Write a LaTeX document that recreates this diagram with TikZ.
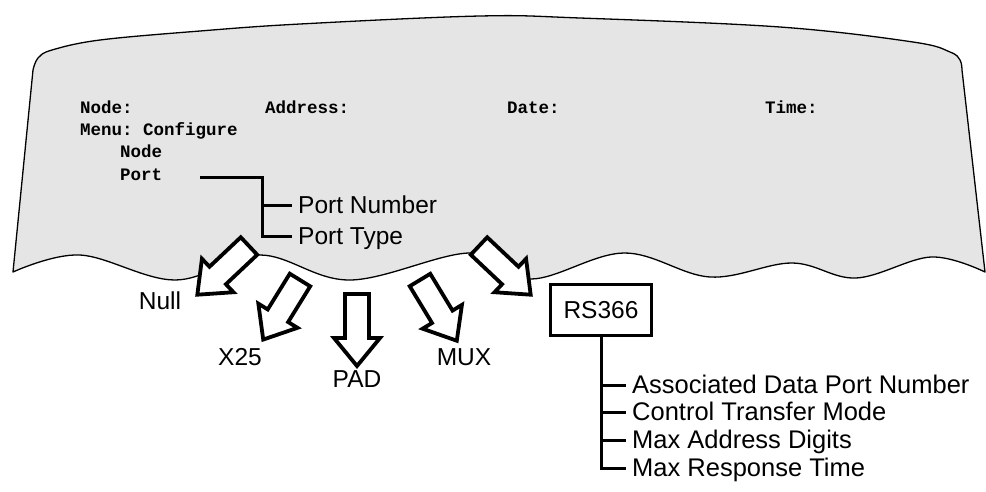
\documentclass[tikz,border=0pt]{standalone}
\usepackage{fontspec}
\setmainfont{Liberation Sans}
\setmonofont{Liberation Mono}
\usetikzlibrary{calc}

\tikzset{
  screen/.style={fill=black!10, draw=black, line width=1.3pt, line join=round},
  term/.style={inner sep=0pt, anchor=west, text height=11pt, text depth=0pt,
    font=\fontsize{17.5}{21}\selectfont\ttfamily\bfseries},
  lbl/.style={inner sep=0pt, anchor=west, text height=17pt, text depth=0pt,
    font=\fontsize{24.5}{28}\selectfont},
  rlbl/.style={lbl, font=\fontsize{25.5}{29}\selectfont},
  clbl/.style={inner sep=0pt, font=\fontsize{24.5}{28}\selectfont},
  tree/.style={draw=black, line width=3pt},
  blockarr/.style={draw=black, fill=white, line width=3.8pt, line join=miter, miter limit=10},
  rsbox/.style={draw=black, line width=3.5pt, minimum width=101pt, minimum height=51pt,
    inner sep=0pt, font=\fontsize{24.5}{28}\selectfont}
}

% hollow block arrow: #1 tail point, #2 direction angle, #3 length
\newcommand\hollowarrow[3]{%
  \begin{scope}[shift={#1}, rotate=#2]
    \path[blockarr] (0,-12) -- ({#3-28},-12) -- ({#3-28},-23) -- (#3,0)
      -- ({#3-28},23) -- ({#3-28},12) -- (0,12) -- cycle;
  \end{scope}}

\begin{document}
\begin{tikzpicture}[x=1pt, y=-1pt]
\useasboundingbox (0,0) rectangle (986,491);

% terminal screen with torn lower edge
\draw[screen]
  plot[smooth, tension=0.6] coordinates {(33,70) (38,58) (52,50) (100,40) (200,31)
      (300,24) (480,16) (580,18) (780,27) (913,42) (950,52) (960,60) (962,70)}
  -- (985,272)
  -- plot[smooth, tension=0.6] coordinates {(985,272) (931,257) (856,278) (792,263)
      (710,277) (624,253) (531,279) (470,253) (350,280) (260,255) (175,280)
      (80,255) (13,272)}
  -- cycle;

% header lines
\node[term] (hnode) at (80,108) {Node:};
\node[term] (haddr) at (265,108) {Address:};
\node[term] (hdate) at (507,108) {Date:};
\node[term] (htime) at (765,108) {Time:};
\node[term] (hmenu) at (80,130) {Menu: Configure};

% menu entries
\node[term] (mnode) at (120,152) {Node};
\node[term] (mport) at (120,175) {Port};

% port submenu
\node[lbl] (pnum) at (298,205) {Port Number};
\node[lbl] (ptype) at (298,236) {Port Type};
\coordinate (pj) at (262,177);
\draw[tree] ([xshift=38pt]mport.east |- pj) -- (pj) |- ([xshift=-6pt]ptype.west);
\draw[tree] (pj |- pnum.west) -- ([xshift=-6pt]pnum.west);

% port type choices
\node[clbl] (tnull) at (160,301) {Null};
\node[clbl] (tx25) at (240,357) {X25};
\node[clbl] (tpad) at (357,379) {PAD};
\node[clbl] (tmux) at (464,357) {MUX};
\node[rsbox] (trs) at (601,310) {RS366};

\hollowarrow{(249,246)}{-136.7}{71}
\hollowarrow{(300,280)}{-121.7}{70}
\hollowarrow{(357,294)}{-90}{72}
\hollowarrow{(420,280)}{-58.8}{71}
\hollowarrow{(479,246)}{-43.3}{71}

% RS366 parameters
\node[rlbl] (ra) at (632,385) {Associated Data Port Number};
\node[rlbl] (rb) at (632,412) {Control Transfer Mode};
\node[rlbl] (rc) at (632,440) {Max Address Digits};
\node[rlbl] (rd) at (632,468) {Max Response Time};
\draw[tree] (trs.south) |- ([xshift=-6pt]rd.west);
\foreach \r in {ra,rb,rc}
  \draw[tree] (trs.south |- \r.west) -- ([xshift=-6pt]\r.west);
\end{tikzpicture}
\end{document}
